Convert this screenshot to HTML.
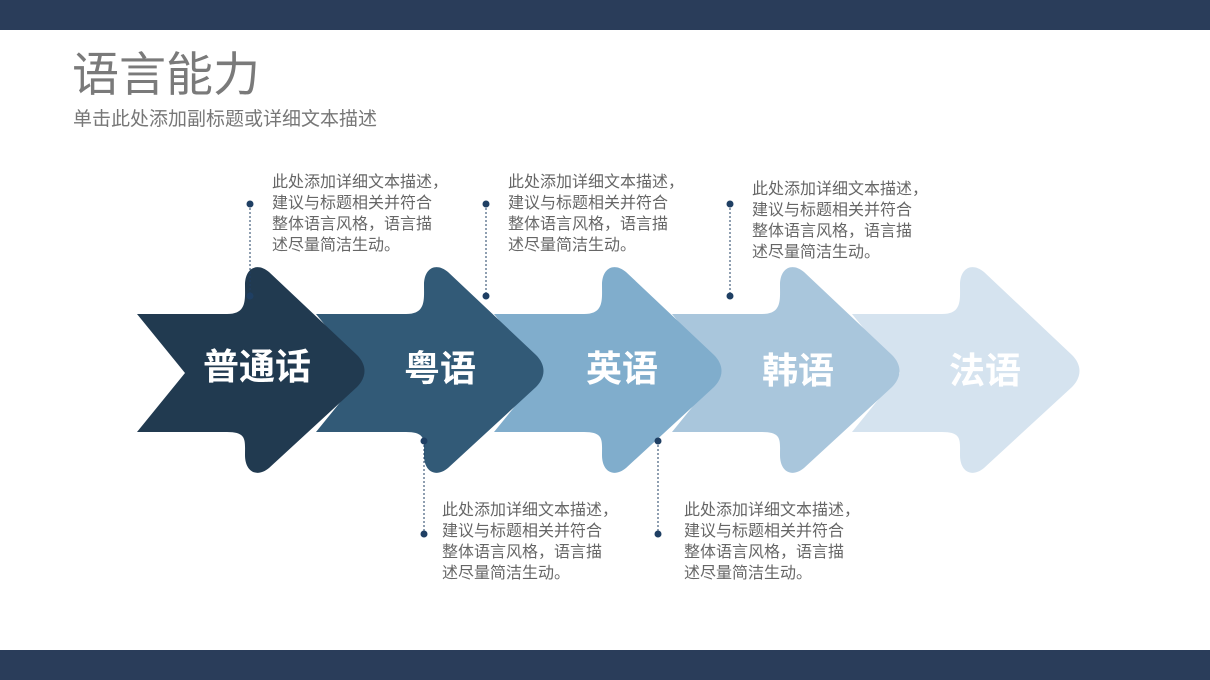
<!DOCTYPE html>
<html><head><meta charset="utf-8"><style>
body{margin:0;width:1210px;height:680px;position:relative;background:#fff;overflow:hidden;font-family:"Liberation Sans","Noto Sans CJK SC",sans-serif}
.bar{position:absolute;left:0;width:1210px;background:#2a3d5a}
.t{position:absolute;font-size:16px;line-height:21px;color:#666;white-space:nowrap}
</style></head><body>
<div class="bar" style="top:0;height:30px"></div>
<div class="bar" style="top:650px;height:30px"></div>
<div style="position:absolute;left:72px;top:45px;font-size:47px;color:#7a7a7a;line-height:60px">语言能力</div>
<div style="position:absolute;left:73px;top:104px;font-size:19px;color:#777">单击此处添加副标题或详细文本描述</div>
<svg width="1210" height="680" style="position:absolute;left:0;top:0">
<defs><path id="a" d="M -120 314 L -30 314 C -10 314 -12 300 -12 285 C -12 268 0 262 12 272 L 100 355 C 110 365 110 377 100 387 L 12 468 C 0 478 -12 472 -12 455 C -12 440 -10 432 -30 432 L -120 432 L -72 373 Z"/></defs>
<use href="#a" x="972" fill="#d5e3ef"/>
<use href="#a" x="792" fill="#a9c6dc"/>
<use href="#a" x="614" fill="#80adcc"/>
<use href="#a" x="436" fill="#325a77"/>
<use href="#a" x="257" fill="#213a50"/>
<g font-family="Liberation Sans,Noto Sans CJK SC,sans-serif" font-weight="bold" font-size="36" fill="#fff" text-anchor="middle">
<text x="257" y="379">普通话</text><text x="440" y="381">粤语</text><text x="622" y="381">英语</text><text x="798" y="383">韩语</text><text x="985" y="383">法语</text></g>
<g stroke="#1f3f63" stroke-dasharray="2,2" stroke-width="1">
<line x1="250" y1="204" x2="250" y2="296"/><line x1="486" y1="204" x2="486" y2="296"/><line x1="730" y1="204" x2="730" y2="296"/>
<line x1="424" y1="441" x2="424" y2="534"/><line x1="658" y1="441" x2="658" y2="534"/></g>
<g fill="#1f3f63">
<circle cx="250" cy="204" r="3.5"/><circle cx="250" cy="296" r="3.5"/><circle cx="486" cy="204" r="3.5"/><circle cx="486" cy="296" r="3.5"/><circle cx="730" cy="204" r="3.5"/><circle cx="730" cy="296" r="3.5"/>
<circle cx="424" cy="441" r="3.5"/><circle cx="424" cy="534" r="3.5"/><circle cx="658" cy="441" r="3.5"/><circle cx="658" cy="534" r="3.5"/></g>
</svg>
<div class="t" style="left:272px;top:172px">此处添加详细文本描述，<br>建议与标题相关并符合<br>整体语言风格，语言描<br>述尽量简洁生动。</div>
<div class="t" style="left:508px;top:172px">此处添加详细文本描述，<br>建议与标题相关并符合<br>整体语言风格，语言描<br>述尽量简洁生动。</div>
<div class="t" style="left:752px;top:179px">此处添加详细文本描述，<br>建议与标题相关并符合<br>整体语言风格，语言描<br>述尽量简洁生动。</div>
<div class="t" style="left:442px;top:500px">此处添加详细文本描述，<br>建议与标题相关并符合<br>整体语言风格，语言描<br>述尽量简洁生动。</div>
<div class="t" style="left:684px;top:500px">此处添加详细文本描述，<br>建议与标题相关并符合<br>整体语言风格，语言描<br>述尽量简洁生动。</div>
</body></html>
